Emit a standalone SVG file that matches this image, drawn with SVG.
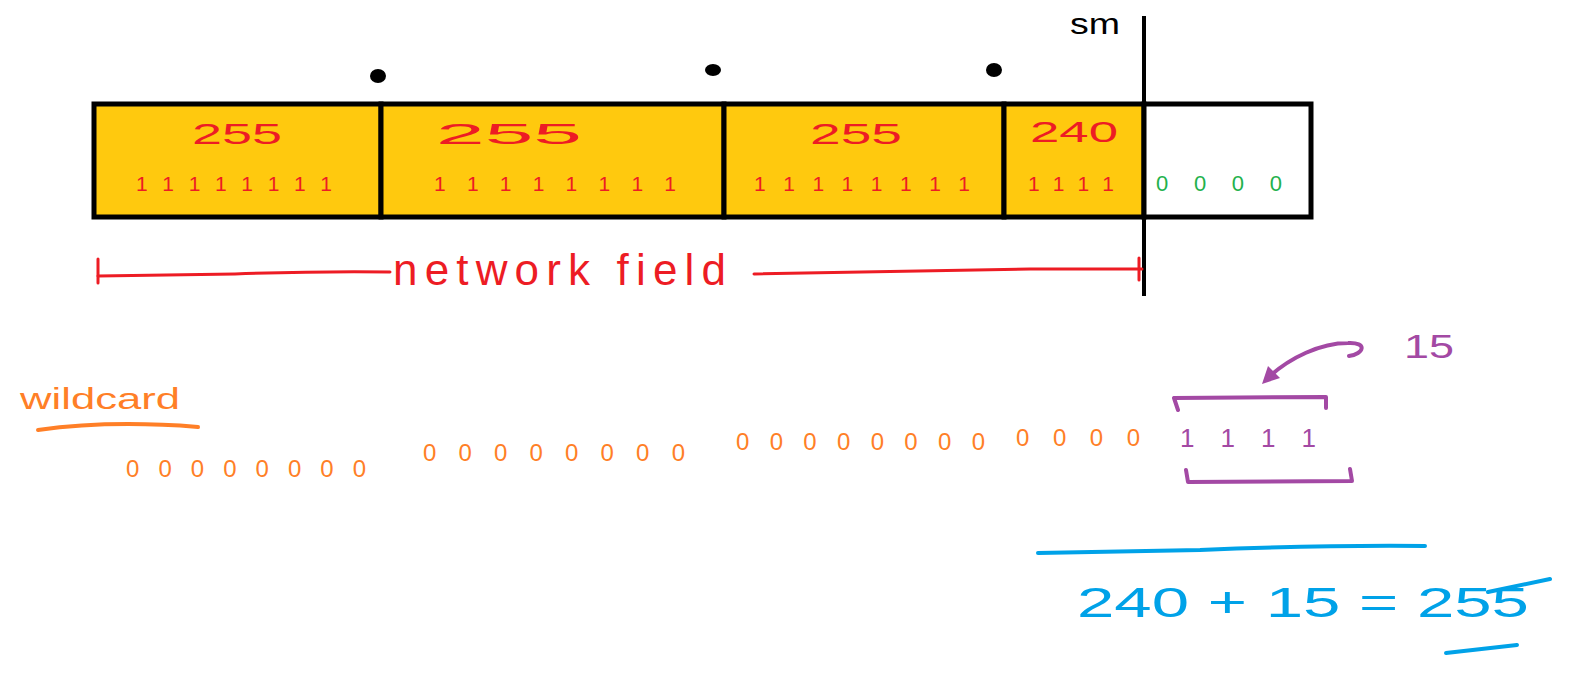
<svg xmlns="http://www.w3.org/2000/svg" width="1581" height="693" viewBox="0 0 1581 693">
<style>
.t{font-family:"Liberation Sans",Arial,sans-serif}
.red{fill:#ed1c24}
.org{fill:#ff7f27}
.grn{fill:#22b14c}
.pur{fill:#a349a4}
.blu{fill:#00a2e8}
.blk{fill:#000}
.box{fill:#ffc90e;stroke:#000;stroke-width:5}
.wbox{fill:#fff;stroke:#000;stroke-width:5}
.sr{stroke:#ed1c24;stroke-width:3;fill:none;stroke-linecap:round}
.so{stroke:#ff7f27;stroke-width:4;fill:none;stroke-linecap:round}
.sp{stroke:#a349a4;stroke-width:4;fill:none;stroke-linecap:round;stroke-linejoin:round}
.sb{stroke:#00a2e8;stroke-width:4;fill:none;stroke-linecap:round}
</style>
<rect width="1581" height="693" fill="#fff"/>
<g id="cell1">
<rect class="box" x="94" y="104" width="287" height="113"/>
<text class="t red" x="192" y="144" font-size="30" textLength="90" lengthAdjust="spacingAndGlyphs">255</text>
<text class="t red" x="136" y="191" font-size="21" textLength="196" lengthAdjust="spacing">11111111</text>
</g>
<g id="cell2">
<rect class="box" x="381" y="104" width="343" height="113"/>
<text class="t red" x="436" y="144" font-size="30" textLength="146" lengthAdjust="spacingAndGlyphs">255</text>
<text class="t red" x="434" y="191" font-size="21" textLength="242" lengthAdjust="spacing">11111111</text>
</g>
<g id="cell3">
<rect class="box" x="724" y="104" width="280" height="113"/>
<text class="t red" x="810" y="144" font-size="30" textLength="92" lengthAdjust="spacingAndGlyphs">255</text>
<text class="t red" x="754" y="191" font-size="21" textLength="216" lengthAdjust="spacing">11111111</text>
</g>
<g id="cell4">
<rect class="box" x="1004" y="104" width="140" height="113"/>
<text class="t red" x="1030" y="142" font-size="30" textLength="88" lengthAdjust="spacingAndGlyphs">240</text>
<text class="t red" x="1028" y="191" font-size="21" textLength="86" lengthAdjust="spacing">1111</text>
</g>
<g id="cell5">
<rect class="wbox" x="1144" y="104" width="167" height="113"/>
<text class="t grn" x="1156" y="191" font-size="22" textLength="126" lengthAdjust="spacing">0000</text>
</g>
<g id="dots">
<ellipse class="blk" cx="378" cy="76" rx="8" ry="7"/>
<ellipse class="blk" cx="713" cy="70" rx="8" ry="6"/>
<ellipse class="blk" cx="994" cy="70" rx="8" ry="7"/>
</g>
<g id="sm">
<text class="t blk" x="1070" y="34" font-size="30" textLength="50" lengthAdjust="spacingAndGlyphs">sm</text>
</g>
<g id="connectors">
<line x1="1144" y1="16" x2="1144" y2="296" stroke="#000" stroke-width="4"/>
<path class="sr" d="M98,276 L235,274 Q320,271 390,272"/>
<path class="sr" d="M98,259 L98,283"/>
<path class="sr" d="M754,274 L1030,269 L1142,269"/>
<path class="sr" d="M1139,258 L1139,280"/>
<path class="so" d="M38,430 Q110,420 198,427"/>
<path class="sp" d="M1178,410 L1174,398 L1326,397 L1326,408"/>
<path class="sp" d="M1186,470 L1188,482 L1352,481 L1350,469"/>
<path class="sp" d="M1349,356 C1364,354 1368,342 1348,343 C1320,343 1290,358 1270,376"/>
<polygon class="pur" points="1262,384 1268,366 1280,378"/>
<path class="sb" d="M1038,553 L1200,550 Q1320,545 1425,546"/>
<path class="sb" d="M1446,653 L1517,645"/>
<path class="sb" d="M1488,592 L1550,579"/>
</g>
<g id="network-field">
<text class="t red" x="393" y="285" font-size="44" textLength="333" lengthAdjust="spacing">network field</text>
</g>
<g id="wildcard">
<text class="t org" x="20" y="409" font-size="30" textLength="160" lengthAdjust="spacingAndGlyphs">wildcard</text>
<text class="t org" x="126" y="477" font-size="24" textLength="240" lengthAdjust="spacing">00000000</text>
<text class="t org" x="423" y="461" font-size="24" textLength="262" lengthAdjust="spacing">00000000</text>
<text class="t org" x="736" y="450" font-size="24" textLength="249" lengthAdjust="spacing">00000000</text>
<text class="t org" x="1016" y="446" font-size="24" textLength="124" lengthAdjust="spacing">0000</text>
</g>
<g id="host-bits">
<text class="t pur" x="1180" y="447" font-size="26" textLength="136" lengthAdjust="spacing">1111</text>
<text class="t pur" x="1404" y="358" font-size="34" textLength="50" lengthAdjust="spacingAndGlyphs">15</text>
</g>
<g id="equation">
<text class="t blu" x="1077" y="617" font-size="42" textLength="452" lengthAdjust="spacingAndGlyphs">240 + 15 = 255</text>
</g>
</svg>
